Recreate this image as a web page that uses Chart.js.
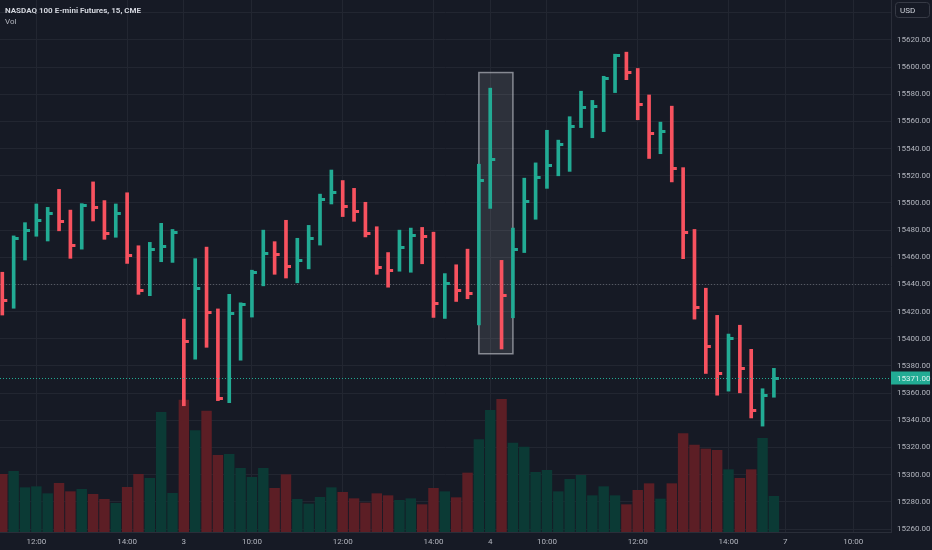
<!DOCTYPE html>
<html>
<head>
<meta charset="utf-8">
<script src="https://cdn.jsdelivr.net/npm/chart.js@4.4.0/dist/chart.umd.min.js"></script>
<style>
  html, body { margin: 0; padding: 0; background: #161a25; }
  #wrap { width: 932px; height: 550px; position: relative; }
</style>
</head>
<body>
<div id="wrap"><canvas id="chart"></canvas></div>
<script>
// 15 min HLC bars, NQ futures
const highs = [15449, 15475.75, 15485.5, 15499.25, 15496.75, 15510, 15494.75, 15499.5, 15515.5, 15501.75,
  15499.25, 15507.5, 15468.5, 15471, 15485, 15480.5, 15414.5, 15459, 15467.5, 15422,
  15432.75, 15426.5, 15450.5, 15480, 15471.5, 15487.25, 15474, 15483.5, 15506.5, 15524.25,
  15516.5, 15510.75, 15500.5, 15482.5, 15463.5, 15480, 15481.5, 15482, 15478.5, 15448,
  15454.5, 15466, 15528.5, 15584.5, 15457.75, 15481.5, 15518.25, 15529.5, 15553.5, 15546.25,
  15563.5, 15582.25, 15575.5, 15593.25, 15609.5, 15611, 15599, 15579.5, 15559.5, 15571.25,
  15526, 15480.5, 15437.25, 15417.25, 15403.5, 15410, 15392.25, 15363.25, 15378.25];
const lows = [15417.5, 15422.5, 15458, 15475.5, 15472, 15479.5, 15459.25, 15466, 15486.75, 15473.25,
  15474.75, 15455.5, 15432.75, 15431.75, 15456.75, 15456.25, 15350.75, 15385, 15393.75, 15354.5,
  15353, 15384.25, 15416, 15439, 15447.5, 15444.75, 15441.25, 15451.5, 15469, 15499.25,
  15490, 15486.5, 15475, 15447.5, 15438, 15449.75, 15449, 15455.25, 15415.75, 15415,
  15427.5, 15429.5, 15410.25, 15496, 15392.5, 15415.5, 15463.5, 15488, 15510.75, 15520,
  15523.25, 15555.5, 15548, 15552.5, 15581.25, 15590.75, 15561.25, 15532.75, 15536.25, 15515.5,
  15459, 15414.5, 15374.5, 15358.5, 15361.5, 15360.25, 15341.75, 15335.75, 15357];
const closes = [15428, 15473.5, 15480, 15487, 15492.5, 15486, 15469, 15498, 15496.5, 15477.5,
  15492, 15461, 15435.75, 15466, 15468.25, 15478, 15398.25, 15437.25, 15419.5, 15356.25,
  15418.75, 15425, 15448.75, 15462.5, 15461.75, 15453.5, 15457.75, 15474, 15502.75, 15508,
  15497.5, 15493.5, 15477.75, 15452.75, 15450.25, 15467.5, 15475.75, 15475.5, 15426.25, 15441,
  15435.75, 15433.5, 15516.25, 15532.25, 15432.25, 15466, 15501, 15519, 15527.25, 15543.25,
  15556, 15570.5, 15571, 15591.75, 15608.25, 15595.75, 15572.75, 15551.25, 15552.75, 15525.5,
  15478.25, 15423.25, 15394, 15374.25, 15400, 15378.25, 15347, 15358, 15371];
const volumes = [8700, 9150, 6700, 6850, 5800, 7350, 6100, 6450, 5700, 4950,
  4350, 6750, 8700, 8100, 18000, 5850, 19850, 15250, 18200, 11550,
  11700, 9600, 8250, 9600, 6600, 8650, 4950, 4250, 5250, 6700,
  6000, 5050, 4400, 5800, 5500, 4800, 5050, 4150, 6600, 6100,
  5200, 8900, 13900, 18300, 19950, 13400, 12800, 9000, 9300, 6100,
  7950, 8550, 5500, 6850, 5500, 4150, 6300, 7300, 5000, 7300,
  14800, 13100, 12500, 12300, 9400, 8100, 9400, 14100, 5400];
const prevClose = 15445;

const timeTickIdx = [3, 11, 16, 22, 30, 38, 43, 48, 56, 64, 69, 75];
const timeLabels = ['12:00', '14:00', '3', '10:00', '12:00', '14:00', '4', '10:00', '12:00', '14:00', '7', '10:00'];

const lastPrice = 15371;
const markLevel = 15440;
const boxFrom = 42, boxTo = 45, boxHigh = 15596, boxLow = 15389;

const UP = '#22ab94', DOWN = '#f7525f';
const UP_VOL = '#0b3a35', DOWN_VOL = '#5c1e25';
const isUp = closes.map((c, i) => c >= (i === 0 ? prevClose : closes[i - 1]));

function makeTick(color) {
    const c = document.createElement('canvas');
    c.width = 14; c.height = 3;
    const g = c.getContext('2d');
    g.fillStyle = color;
    g.fillRect(8, 0, 4, 3);
    return c;
}
const upTick = makeTick(UP), downTick = makeTick(DOWN);

const FONT = 'Roboto, "Liberation Sans", sans-serif';
Chart.defaults.font.family = FONT;
Chart.defaults.font.size = 8;
Chart.defaults.color = '#b2b5be';

function noPad(axis) {
    axis.paddingLeft = 0; axis.paddingRight = 0;
    axis.paddingTop = 0; axis.paddingBottom = 0;
}

const overlay = {
    id: 'overlay',
    beforeDatasetsDraw(chart) {
        const { ctx, chartArea: a, scales: { x, y } } = chart;
        ctx.save();
        // highlight box
        const bx1 = x.getPixelForValue(boxFrom), bx2 = x.getPixelForValue(boxTo);
        const by1 = y.getPixelForValue(boxHigh), by2 = y.getPixelForValue(boxLow);
        ctx.fillStyle = 'rgba(255,255,255,0.1)';
        ctx.fillRect(bx1, by1, bx2 - bx1, by2 - by1);
        ctx.strokeStyle = 'rgba(178,181,190,0.7)';
        ctx.lineWidth = 1.5;
        ctx.strokeRect(bx1, by1, bx2 - bx1, by2 - by1);
        // dotted level
        const my = Math.round(y.getPixelForValue(markLevel)) + 0.5;
        ctx.strokeStyle = 'rgba(120,123,134,0.6)';
        ctx.lineWidth = 1;
        ctx.setLineDash([1, 2]);
        ctx.beginPath(); ctx.moveTo(a.left, my); ctx.lineTo(a.right, my); ctx.stroke();
        ctx.restore();
    },
    afterDraw(chart) {
        const { ctx, chartArea: a, scales: { y } } = chart;
        ctx.save();
        // last price line + label
        const py = Math.round(y.getPixelForValue(lastPrice)) + 0.5;
        ctx.strokeStyle = UP;
        ctx.lineWidth = 1;
        ctx.setLineDash([1, 2]);
        ctx.beginPath(); ctx.moveTo(a.left, py); ctx.lineTo(a.right, py); ctx.stroke();
        ctx.setLineDash([]);
        ctx.fillStyle = UP;
        ctx.fillRect(a.right, py - 7, 39, 13);
        ctx.fillStyle = '#d8f2ee';
        ctx.font = '8px ' + FONT;
        ctx.textBaseline = 'middle';
        ctx.textAlign = 'left';
        ctx.fillText(lastPrice.toFixed(2), a.right + 6, py);
        // title
        ctx.fillStyle = '#d1d4dc';
        ctx.font = 'bold 8px ' + FONT;
        ctx.fillText('NASDAQ 100 E-mini Futures, 15, CME', 5, 11);
        ctx.fillStyle = '#b2b5be';
        ctx.font = '8px ' + FONT;
        ctx.fillText('Vol', 5, 22);
        // currency box
        ctx.fillStyle = '#161a25';
        ctx.fillRect(a.right + 1, 0, 41, 21);
        ctx.strokeStyle = '#363a45';
        ctx.lineWidth = 1;
        ctx.beginPath();
        ctx.roundRect(895.5, 2.5, 34, 15, 3);
        ctx.stroke();
        ctx.fillStyle = '#d1d4dc';
        ctx.fillText('USD', 900, 10.5);
        ctx.restore();
    }
};

const ctx = document.getElementById('chart').getContext('2d');
const chart = new Chart(ctx, {
    type: 'bar',
    data: {
        datasets: [{
            label: 'Vol',
            data: volumes.map((v, i) => ({ x: i, y: v })),
            backgroundColor: isUp.map(u => u ? UP_VOL : DOWN_VOL),
            yAxisID: 'yv',
            grouped: false,
            barPercentage: 0.92,
            categoryPercentage: 1,
            order: 3
        }, {
            label: 'High-Low',
            data: highs.map((h, i) => ({ x: i, y: [lows[i], h] })),
            backgroundColor: isUp.map(u => u ? UP : DOWN),
            yAxisID: 'y',
            grouped: false,
            barThickness: 3,
            order: 2
        }, {
            type: 'line',
            label: 'Close',
            data: closes.map((c, i) => ({ x: i, y: c })),
            showLine: false,
            yAxisID: 'y',
            pointStyle: isUp.map(u => u ? upTick : downTick),
            pointRadius: 3,
            order: 1
        }]
    },
    options: {
        responsive: true,
        maintainAspectRatio: false,
        animation: false,
        layout: { padding: 0, autoPadding: false },
        plugins: {
            legend: { display: false },
            tooltip: { enabled: false }
        },
        scales: {
            x: {
                type: 'linear',
                min: -0.203,
                max: 78.32,
                offset: false,
                afterBuildTicks: axis => { axis.ticks = timeTickIdx.map(v => ({ value: v })); },
                afterFit: axis => { axis.height = 18; noPad(axis); },
                ticks: {
                    autoSkip: false,
                    maxRotation: 0,
                    padding: 5,
                    color: '#b2b5be',
                    callback: (v, i) => timeLabels[i]
                },
                grid: { color: '#222631', drawTicks: false, offset: false },
                border: { display: true, color: '#2a2e39' }
            },
            y: {
                position: 'right',
                min: 15257.8,
                max: 15649.4,
                afterFit: axis => { axis.width = 41; noPad(axis); },
                ticks: {
                    stepSize: 20,
                    includeBounds: false,
                    padding: 6,
                    color: '#b2b5be',
                    callback: v => v > 15630 ? '' : v.toFixed(2)
                },
                grid: { color: '#222631', drawTicks: false },
                border: { display: true, color: '#2a2e39' }
            },
            yv: {
                display: false,
                min: 0,
                max: 79800
            }
        }
    },
    plugins: [overlay]
});
</script>
</body>
</html>
